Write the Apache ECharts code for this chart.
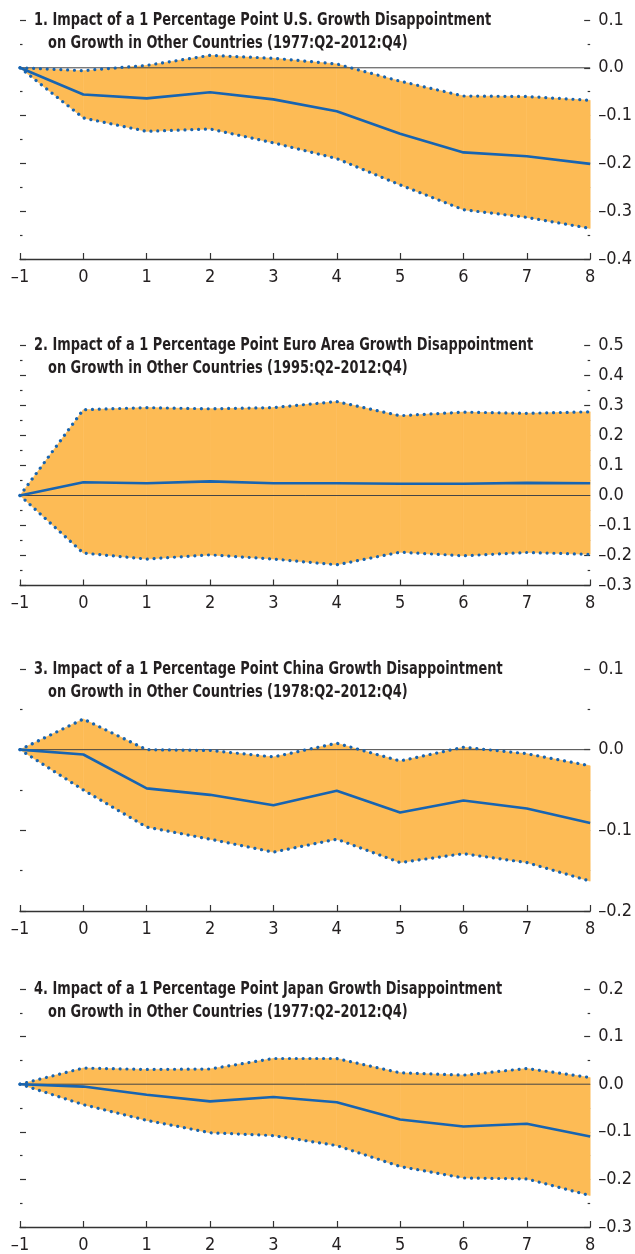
<!DOCTYPE html>
<html>
<head>
<meta charset="utf-8">
<script src="https://cdn.jsdelivr.net/npm/echarts@6/dist/echarts.min.js"></script>
<style>
html,body{margin:0;padding:0;background:#fff;}
#c{width:635px;height:1254px;}
</style>
</head>
<body>
<div id="c"></div>
<script>
// ---- data ----
var steps = [-1, 0, 1, 2, 3, 4, 5, 6, 7, 8];

var usMid = [0, -0.056, -0.064, -0.051, -0.066, -0.091, -0.138, -0.177, -0.185, -0.201];
var usUp  = [0, -0.006, 0.005, 0.026, 0.020, 0.008, -0.028, -0.059, -0.060, -0.068];
var usLow = [0, -0.105, -0.133, -0.128, -0.157, -0.190, -0.245, -0.297, -0.313, -0.336];

var euMid = [0, 0.044, 0.041, 0.047, 0.041, 0.041, 0.039, 0.039, 0.042, 0.041];
var euUp  = [0, 0.286, 0.293, 0.289, 0.293, 0.313, 0.266, 0.278, 0.274, 0.279];
var euLow = [0, -0.192, -0.212, -0.198, -0.212, -0.231, -0.189, -0.201, -0.190, -0.196];

var cnMid = [0, -0.006, -0.048, -0.056, -0.069, -0.051, -0.078, -0.063, -0.073, -0.091];
var cnUp  = [0, 0.038, 0.000, -0.001, -0.009, 0.008, -0.014, 0.003, -0.005, -0.020];
var cnLow = [0, -0.050, -0.096, -0.111, -0.127, -0.111, -0.140, -0.129, -0.140, -0.163];

var jpMid = [0, -0.005, -0.022, -0.036, -0.027, -0.038, -0.074, -0.089, -0.083, -0.110];
var jpUp  = [0, 0.034, 0.031, 0.032, 0.054, 0.054, 0.024, 0.019, 0.033, 0.014];
var jpLow = [0, -0.043, -0.076, -0.102, -0.108, -0.129, -0.173, -0.197, -0.199, -0.234];

var titles1 = [
  "1. Impact of a 1 Percentage Point U.S. Growth Disappointment",
  "2. Impact of a 1 Percentage Point Euro Area Growth Disappointment",
  "3. Impact of a 1 Percentage Point China Growth Disappointment",
  "4. Impact of a 1 Percentage Point Japan Growth Disappointment"
];
var titles2 = [
  "on Growth in Other Countries (1977:Q2\u20132012:Q4)",
  "on Growth in Other Countries (1995:Q2\u20132012:Q4)",
  "on Growth in Other Countries (1978:Q2\u20132012:Q4)",
  "on Growth in Other Countries (1977:Q2\u20132012:Q4)"
];
var yMins = [-0.4, -0.3, -0.2, -0.3];
var yMaxs = [0.1, 0.5, 0.1, 0.2];

// ---- styling / layout ----
var ORANGE = '#FDBB55';
var BLUE = '#1764B1';
var TXT = '#231F20';
var FONT = '"Liberation Sans Narrow", "DejaVu Sans Condensed", "Arial Narrow", sans-serif';
var grids = [
  {top: 20, height: 239},
  {top: 345.5, height: 240},
  {top: 669, height: 242},
  {top: 989, height: 238}
];
var panels = [
  {mid: usMid, up: usUp, low: usLow},
  {mid: euMid, up: euUp, low: euLow},
  {mid: cnMid, up: cnUp, low: cnLow},
  {mid: jpMid, up: jpUp, low: jpLow}
];

function fmt(v) {
  var s = Math.abs(v).toFixed(1);
  return (v < -1e-9 ? '\u2013' : '') + s;
}
function pairs(arr) { return steps.map(function (x, i) { return [x, arr[i]]; }); }

function bandRender(params, api) {
  var x0 = api.value(0), u0 = api.value(1), l0 = api.value(2);
  var x1 = api.value(3), u1 = api.value(4), l1 = api.value(5);
  var pts = [api.coord([x0, u0]), api.coord([x1, u1]), api.coord([x1, l1]), api.coord([x0, l0])];
  return {type: 'polygon', shape: {points: pts},
    style: {fill: ORANGE, stroke: ORANGE, lineWidth: 0.6}};
}

var option = {
  animation: false,
  backgroundColor: '#fff',
  grid: [], xAxis: [], yAxis: [], series: [], graphic: []
};

grids.forEach(function (g, k) {
  option.grid.push({left: 20, right: 43, top: g.top, height: g.height});
  option.xAxis.push({
    type: 'value', gridIndex: k, min: -1, max: 8, interval: 1,
    axisLine: {onZero: false, lineStyle: {color: '#333', width: 1.3}},
    axisTick: {inside: true, length: 6, lineStyle: {color: '#333', width: 1.2}},
    splitLine: {show: false},
    axisLabel: {margin: 9, color: TXT, fontFamily: FONT, fontSize: 18,
      formatter: function (v) { return fmt(v).replace('.0', ''); }}
  });
  var yBase = {
    type: 'value', gridIndex: k, min: yMins[k], max: yMaxs[k], interval: 0.1,
    axisLine: {show: false, onZero: false},
    splitLine: {show: false},
    axisTick: {show: true, inside: true, length: 6, lineStyle: {color: '#333', width: 1.2}},
    minorTick: {show: true, splitNumber: 2, length: 2.5, lineStyle: {color: '#333', width: 1.2}}
  };
  option.yAxis.push(Object.assign({}, yBase, {position: 'left', axisLabel: {show: false}}));
  option.yAxis.push(Object.assign({}, yBase, {position: 'right',
    axisLabel: {show: true, margin: 8, color: TXT, fontFamily: FONT, fontSize: 18, formatter: fmt}}));

  var p = panels[k];
  var yi = k * 2 + 1;
  var segs = [];
  for (var i = 0; i < steps.length - 1; i++) {
    segs.push([steps[i], p.up[i], p.low[i], steps[i + 1], p.up[i + 1], p.low[i + 1]]);
  }
  option.series.push({
    type: 'custom', xAxisIndex: k, yAxisIndex: yi, data: segs, renderItem: bandRender,
    encode: {x: [0, 3], y: [1, 2, 4, 5]}, silent: true, z: 1
  });
  option.series.push({
    type: 'line', xAxisIndex: k, yAxisIndex: yi, data: [[-1, 0], [8, 0]],
    symbol: 'none', lineStyle: {color: '#444', width: 1}, silent: true, z: 2
  });
  [p.up, p.low].forEach(function (arr) {
    option.series.push({
      type: 'line', xAxisIndex: k, yAxisIndex: yi, data: pairs(arr), symbol: 'none',
      lineStyle: {color: BLUE, width: 3.2, type: [0.01, 6.8], cap: 'round'}, silent: true, z: 3
    });
  });
  option.series.push({
    type: 'line', xAxisIndex: k, yAxisIndex: yi, data: pairs(p.mid), symbol: 'none',
    lineStyle: {color: BLUE, width: 2.6}, silent: true, z: 4
  });

  option.graphic.push({type: 'text', x: 34, y: g.top - 8, scaleX: 0.845, z: 10,
    style: {text: titles1[k], font: 'bold 17px ' + FONT, fill: TXT}});
  option.graphic.push({type: 'text', x: 48, y: g.top + 15, scaleX: 0.845, z: 10,
    style: {text: titles2[k], font: 'bold 17px ' + FONT, fill: TXT}});
});

var chart = echarts.init(document.getElementById('c'), null, {renderer: 'canvas'});
chart.setOption(option);
</script>
</body>
</html>
